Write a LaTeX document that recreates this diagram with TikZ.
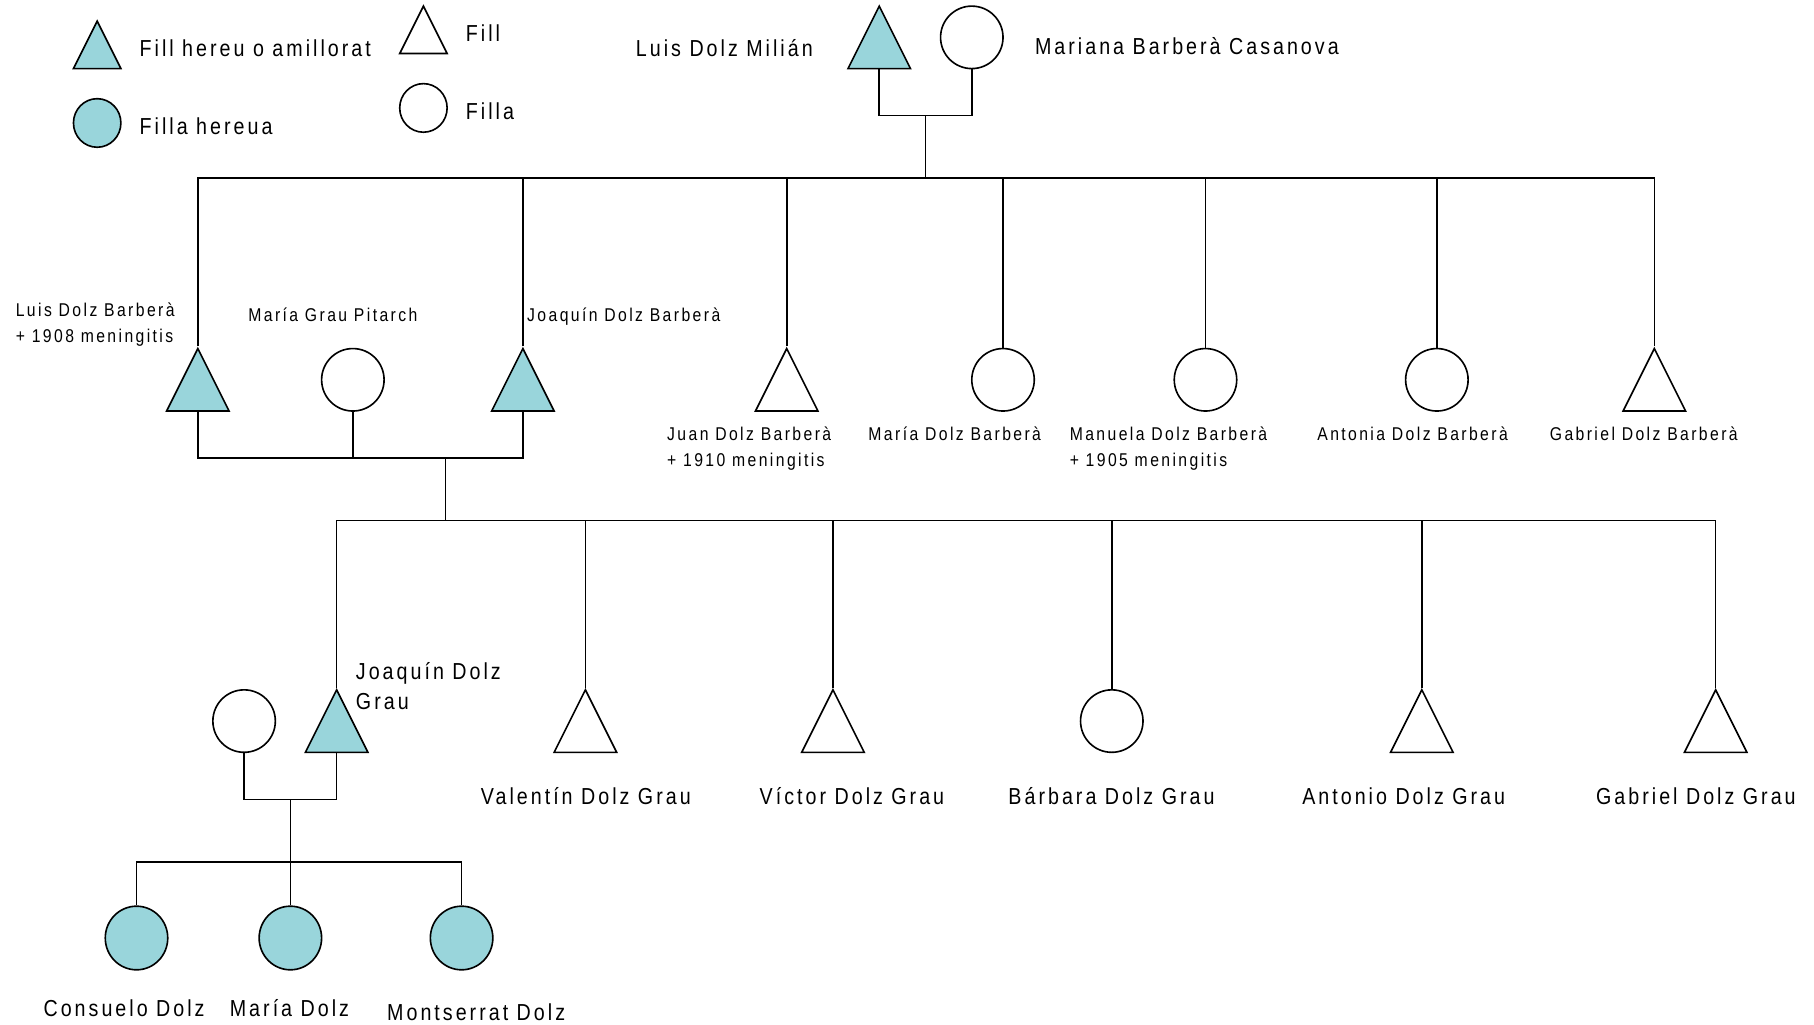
\documentclass[tikz,border=0pt]{standalone}
\usepackage{fontspec}
\setmainfont{Liberation Sans}[FakeStretch=0.85,LetterSpace=13]
\usetikzlibrary{shapes.geometric}
\definecolor{heircol}{HTML}{99D5DB}

\begin{document}
\begin{tikzpicture}[x=0.5pt,y=-0.5pt,line width=0.7pt,
    every node/.style={inner sep=0pt},
    boy/.style={draw,isosceles triangle,isosceles triangle stretches,shape border rotate=90,
        minimum width=27pt,minimum height=27pt,anchor=south},
    girl/.style={draw,ellipse,minimum width=27pt,minimum height=27pt,anchor=south},
    lboy/.style={boy,minimum width=20.5pt,minimum height=20.5pt},
    lgirl/.style={girl,minimum width=20.5pt,minimum height=21pt},
    heir/.style={fill=heircol},
    big/.style={anchor=base west,align=left,font=\fontsize{10}{13}\selectfont},
    tiny/.style={anchor=base west,align=left,font=\fontsize{8}{11}\selectfont}]
\useasboundingbox (0,0) rectangle (1568,886);

% legend
\node[lboy,heir] (kboy) at (84,60) {};
\node[lgirl,heir] (kgirl) at (84,128) {};
\node[lboy] (kson) at (366,47) {};
\node[lgirl] (kdau) at (366,115) {};
\node[big] (tboy) at (120,49) {Fill hereu o amillorat};
\node[big] (tgirl) at (120,116) {Filla hereua};
\node[big] (tson) at (402,36) {Fill};
\node[big] (tdau) at (402,103) {Filla};

% first generation
\node[boy,heir] (luis) at (760,60) {};
\node[girl] (mariana) at (840,60) {};
\node[big] at (549,49) {Luis Dolz Milián};
\node[big] at (894,47) {Mariana Barberà Casanova};
\coordinate (m0) at (800,100);
\coordinate (b0) at (800,154);
\draw (luis.south) |- (m0) -| (mariana.south);
\draw (m0) -- (b0);

% second generation
\node[boy,heir] (luisb) at (171,356) {};
\node[girl] (mariag) at (305,356) {};
\node[boy,heir] (joaquin) at (452,356) {};
\node[boy] (juan) at (680,356) {};
\node[girl] (mariab) at (867,356) {};
\node[girl] (manuela) at (1042,356) {};
\node[girl] (antonia) at (1242,356) {};
\node[boy] (gabriel) at (1430,356) {};
\node[tiny] at (13,296) {Luis Dolz Barberà\\+ 1908 meningitis};
\node[tiny] at (214,278) {María Grau Pitarch};
\node[tiny] at (455,278) {Joaquín Dolz Barberà};
\node[tiny] at (576,403) {Juan Dolz Barberà\\+ 1910 meningitis};
\node[tiny] at (750,381) {María Dolz Barberà};
\node[tiny] at (924,403) {Manuela Dolz Barberà\\+ 1905 meningitis};
\node[tiny] at (1138,381) {Antonia Dolz Barberà};
\node[tiny] at (1339,381) {Gabriel Dolz Barberà};
\draw (luisb.north) |- (b0) -| (gabriel.north);
\foreach \n in {joaquin,juan,mariab,manuela,antonia}
    \draw (\n.north) -- (\n.north |- b0);
\coordinate (m1) at (385,396);
\coordinate (b1) at (385,450);
\draw (luisb.south) |- (m1) -| (joaquin.south);
\draw (mariag.south) -- (mariag.south |- m1);
\draw (m1) -- (b1);

% third generation
\node[girl] (wife) at (211,651) {};
\node[boy,heir] (joaquing) at (291,651) {};
\node[boy] (valentin) at (506,651) {};
\node[boy] (victor) at (720,651) {};
\node[girl] (barbara) at (961,651) {};
\node[boy] (antonio) at (1229,651) {};
\node[boy] (gabrielg) at (1483,651) {};
\node[big] at (307,613) {Joaquín Dolz\\Grau};
\node[big] at (415,695) {Valentín Dolz Grau};
\node[big] at (656,695) {Víctor Dolz Grau};
\node[big] at (871,695) {Bárbara Dolz Grau};
\node[big] at (1125,695) {Antonio Dolz Grau};
\node[big] at (1379,695) {Gabriel Dolz Grau};
\draw (joaquing.north) |- (b1) -| (gabrielg.north);
\foreach \n in {valentin,victor,barbara,antonio}
    \draw (\n.north) -- (\n.north |- b1);
\coordinate (m2) at (251,691);
\coordinate (b2) at (251,745);
\draw (wife.south) |- (m2) -| (joaquing.south);
\draw (m2) -- (b2);

% fourth generation
\node[girl,heir,minimum height=27.5pt] (consuelo) at (118,839) {};
\node[girl,heir,minimum height=27.5pt] (mariad) at (251,839) {};
\node[girl,heir,minimum height=27.5pt] (montserrat) at (399,839) {};
\node[big] at (37,879) {Consuelo Dolz};
\node[big] at (198,879) {María Dolz};
\node[big] at (334,882) {Montserrat Dolz};
\draw (consuelo.north) |- (b2) -| (montserrat.north);
\draw (mariad.north) -- (b2);
\end{tikzpicture}
\end{document}
